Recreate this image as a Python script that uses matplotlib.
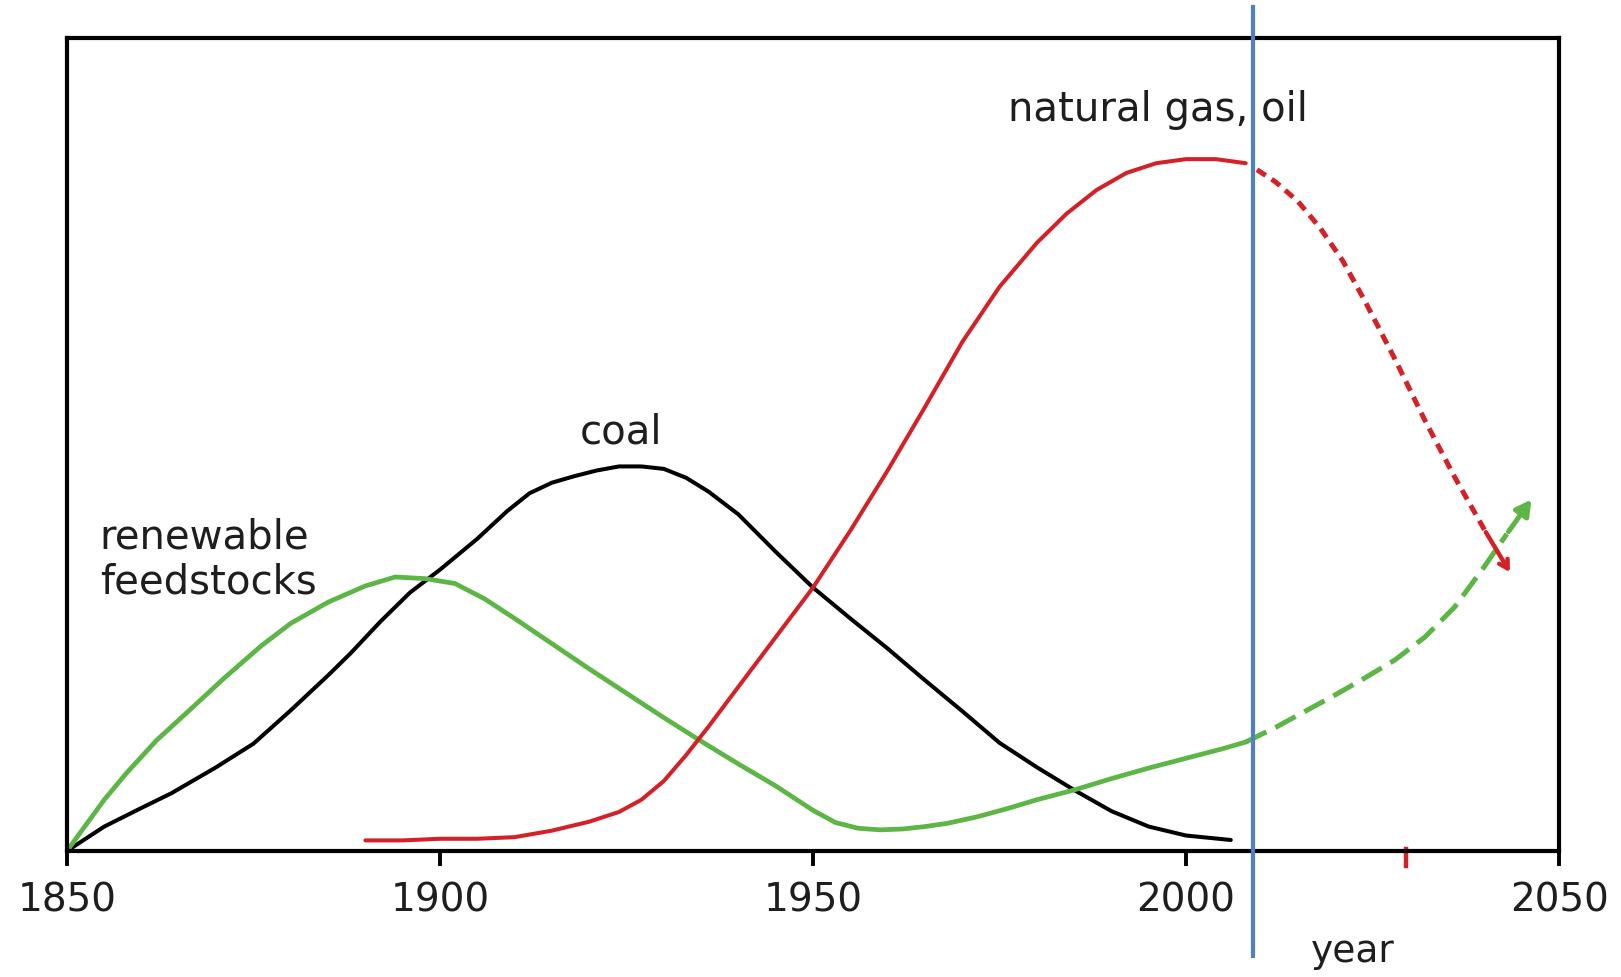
import matplotlib.pyplot as plt
import numpy as np

plt.rcParams['font.family'] = ['DejaVu Sans']

# ---- data (relative amount, 0..100) ----
green_year = [1850, 1855, 1858, 1862, 1867, 1871, 1876, 1880, 1885, 1890, 1894,
              1898, 1902, 1906, 1910, 1915, 1920, 1925, 1930, 1935, 1940, 1945,
              1950, 1953, 1956, 1959, 1962, 1965, 1968, 1972, 1976, 1980, 1985,
              1990, 1995, 2000, 2005, 2008]
green_val = [0, 6.3, 9.6, 13.6, 17.8, 21.2, 25.2, 28.0, 30.6, 32.6, 33.7,
             33.5, 32.9, 31.0, 28.6, 25.5, 22.4, 19.4, 16.4, 13.5, 10.7, 8.0,
             5.0, 3.5, 2.8, 2.6, 2.7, 3.0, 3.4, 4.2, 5.2, 6.3, 7.5,
             8.9, 10.2, 11.4, 12.6, 13.4]
green_fut_year = [2008, 2012, 2016, 2020, 2024, 2028, 2032, 2036, 2040, 2043, 2046.5]
green_fut_val = [13.4, 15.2, 17.2, 19.2, 21.3, 23.5, 26.3, 30, 35, 39, 43.5]

coal_year = [1850, 1855, 1860, 1864, 1870, 1875, 1880, 1885, 1888, 1892, 1896,
             1900, 1905, 1909, 1912, 1915, 1918, 1921, 1924, 1927, 1930, 1933,
             1936, 1940, 1945, 1950, 1955, 1960, 1965, 1970, 1975, 1980, 1985,
             1990, 1995, 2000, 2006]
coal_val = [0, 3.0, 5.3, 7.1, 10.3, 13.2, 17.3, 21.6, 24.3, 28.2, 31.8,
            34.6, 38.4, 41.8, 44.0, 45.3, 46.1, 46.8, 47.3, 47.3, 47.0, 45.9,
            44.2, 41.4, 36.8, 32.4, 28.6, 24.9, 21.0, 17.2, 13.3, 10.3, 7.5,
            4.9, 3.0, 1.9, 1.35]

gas_year = [1890, 1895, 1900, 1905, 1910, 1915, 1920, 1924, 1927, 1930, 1933,
            1936, 1940, 1945, 1950, 1955, 1960, 1965, 1970, 1975, 1980, 1984,
            1988, 1992, 1996, 2000, 2004, 2008]
gas_val = [1.3, 1.3, 1.5, 1.5, 1.7, 2.5, 3.6, 4.8, 6.3, 8.6, 11.8,
           15.3, 20.2, 26.3, 32.4, 39.4, 46.8, 54.6, 62.6, 69.4, 74.8, 78.4,
           81.3, 83.4, 84.6, 85.1, 85.1, 84.6]
gas_fut_year = [2009.5, 2012, 2015, 2018, 2021, 2024, 2028, 2032, 2036, 2040, 2043.6]
gas_fut_val = [83.8, 82.3, 79.9, 76.6, 72.6, 67.6, 60.5, 53.0, 46.0, 39.5, 34]

xticks = [1850, 1900, 1950, 2000, 2050]
now_year = 2009
mark_year = 2029.5

GREEN = '#5cb545'
RED = '#d42027'
BLUE = '#4f7fc4'
TEXT = '#1e1e1e'

fig = plt.figure(figsize=(16.21, 9.77), dpi=100)
ax = fig.add_axes([0.0413, 0.1290, 0.9205, 0.8321])

ax.plot(coal_year, coal_val, color='black', lw=2.9, solid_capstyle='round',
        solid_joinstyle='round')
ax.plot(green_year, green_val, color=GREEN, lw=3.4, solid_capstyle='round',
        solid_joinstyle='round')
ax.plot(gas_year, gas_val, color=RED, lw=2.9, solid_capstyle='round',
        solid_joinstyle='round')

# future parts, dashed with arrow heads
ax.plot(green_fut_year[:-1], green_fut_val[:-1], color=GREEN, lw=3.6,
        dashes=(4.6, 2.0))
ax.annotate('', xy=(green_fut_year[-1], green_fut_val[-1]),
            xytext=(green_fut_year[-2], green_fut_val[-2]),
            arrowprops=dict(arrowstyle='-|>,head_length=0.9,head_width=0.5',
                            color=GREEN, lw=3.6))
ax.plot(gas_fut_year[:-1], gas_fut_val[:-1], color=RED, lw=3.6,
        dashes=(2.1, 1.4))
ax.annotate('', xy=(gas_fut_year[-1], gas_fut_val[-1]),
            xytext=(gas_fut_year[-2], gas_fut_val[-2]),
            arrowprops=dict(arrowstyle='->,head_length=0.6,head_width=0.35',
                            color=RED, lw=3.2))

# small red mark on the axis
ax.plot([mark_year, mark_year], [0.2, -1.8], color=RED, lw=3.2, clip_on=False)

# blue "today" line
ax.plot([now_year, now_year], [-12.9, 103.8], color=BLUE, lw=3, clip_on=False,
        zorder=5)

ax.text(1976.1, 91.1, 'natural gas, oil', fontsize=29, va='center', ha='left',
        color=TEXT)
ax.text(1924.2, 51.5, 'coal', fontsize=29, va='center', ha='center', color=TEXT)
ax.text(1854.4, 35.8, 'renewable\nfeedstocks', fontsize=29, va='center',
        ha='left', linespacing=1.15, color=TEXT)
ax.text(2022.3, -12.4, 'year', fontsize=27, va='center', ha='center', color=TEXT)

ax.set_xlim(1850, 2050)
ax.set_ylim(0, 100)
ax.set_xticks(xticks)
ax.set_xticklabels([str(t) for t in xticks], fontsize=28, color=TEXT)
ax.set_yticks([])
ax.tick_params(axis='x', direction='out', length=11, width=2.8, pad=11)
for s in ax.spines.values():
    s.set_linewidth(3)

fig.savefig('out.png', dpi=100)
